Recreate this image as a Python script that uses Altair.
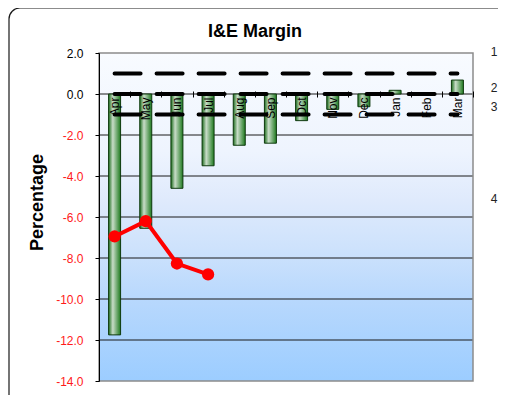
import altair as alt
import pandas as pd

# ---- data ----
months = ["Apr", "May", "Jun", "Jul", "Aug", "Sep", "Oct", "Nov", "Dec", "Jan", "Feb", "Mar"]
margin = [-11.75, -6.55, -4.6, -3.5, -2.5, -2.4, -1.3, -0.75, -0.62, 0.18, 0.05, 0.68]
actual_months = ["Apr", "May", "Jun", "Jul"]
actual = [-6.95, -6.2, -8.27, -8.8]
ref_levels = [1, 0, -1]
grid_values = [-12, -10, -8, -6, -4, -2, 0]
y_ticks = [-14, -12, -10, -8, -6, -4, -2, 0, 2]
side_labels = ["1", "2", "3", "4"]
side_label_y = [-1, 35, 54, 146]

W, H = 374, 328
FONT = "Liberation Sans"

bars_df = pd.DataFrame({"month": months, "value": margin})
line_df = pd.DataFrame({"month": actual_months, "value": actual})
ref_df = pd.DataFrame(
    [{"month": m, "value": lv, "series": str(lv)} for lv in ref_levels for m in months]
)
grid_df = pd.DataFrame({"value": grid_values})
one = alt.Data(values=[{}])

x_axis = alt.Axis(
    orient="bottom", offset=-290, domain=False, ticks=True, tickSize=6,
    tickBand="extent", tickColor="black", tickWidth=1,
    labelAngle=-90, labelAlign="right", labelBaseline="middle",
    labelPadding=0, labelFontSize=12, labelFont=FONT, labelColor="black",
    title=None, grid=False, zindex=1,
)
x_scale = alt.Scale(domain=months, paddingInner=0, paddingOuter=0)
y_scale = alt.Scale(domain=[-14, 2], nice=False, zero=False)
y_axis = alt.Axis(
    values=y_ticks, grid=False, domainColor="black", domainWidth=1,
    tickColor="black", tickSize=4, labelPadding=12, labelFontSize=12,
    labelFont=FONT,
    labelExpr="(datum.value < 0 ? '-' : '') + format(abs(datum.value), '.1f')",
    labelColor=alt.ExprRef("datum.value < 0 ? '#ff1a1a' : 'black'"),
    title="Percentage", titleFont=FONT, titleFontSize=18, titleFontWeight="bold",
    titleColor="black", titleX=-62, titleY=149, titleAngle=270,
    titleAlign="center", titleBaseline="middle", zindex=1,
)


def X():
    return alt.X("month:N", sort=months, scale=x_scale, axis=x_axis)


def Y():
    return alt.Y("value:Q", scale=y_scale, axis=y_axis)


bg = alt.Chart(one).mark_rect(
    color=alt.LinearGradient(
        gradient="linear", x1=0, x2=0, y1=0, y2=1,
        stops=[
            alt.GradientStop(offset=0, color="#f8fbff"),
            alt.GradientStop(offset=0.3, color="#eef4fe"),
            alt.GradientStop(offset=0.45, color="#dfeafc"),
            alt.GradientStop(offset=0.6, color="#cde2fc"),
            alt.GradientStop(offset=0.75, color="#b8d8fd"),
            alt.GradientStop(offset=1, color="#9ccdff"),
        ],
    )
).encode(x=alt.value(0), x2=alt.value("width"), y=alt.value(0), y2=alt.value("height"))

grid = alt.Chart(grid_df).mark_rule(color="#1a1a1a", strokeWidth=1).encode(y=Y())

bars = alt.Chart(bars_df).mark_bar(
    size=12,
    stroke="#0e3a0e",
    strokeWidth=1,
    color=alt.LinearGradient(
        gradient="linear", x1=0, x2=1, y1=0, y2=0,
        stops=[
            alt.GradientStop(offset=0, color="#1e6e1e"),
            alt.GradientStop(offset=0.35, color="#c8dcc8"),
            alt.GradientStop(offset=1, color="#1f7a1f"),
        ],
    ),
).encode(x=X(), y=Y(), y2=alt.datum(0))

refs = alt.Chart(ref_df).mark_line(
    color="black", strokeWidth=4, strokeDash=[26, 16], strokeCap="round"
).encode(x=X(), y=Y(), detail="series:N")

red_line = alt.Chart(line_df).mark_line(color="#ff0000", strokeWidth=4).encode(x=X(), y=Y())
red_pts = alt.Chart(line_df).mark_circle(color="#ff0000", size=150, opacity=1).encode(
    x=X(), y=Y()
)

frame = alt.Chart(one).mark_rect(
    filled=False, stroke="#8c8c8c", strokeWidth=1.5
).encode(x=alt.value(0), x2=alt.value("width"), y=alt.value(0), y2=alt.value("height"))

title = alt.Chart(one).mark_text(
    text="I&E Margin", font=FONT, fontSize=18, fontWeight="bold",
    align="center", baseline="alphabetic", color="black",
).encode(x=alt.value(156), y=alt.value(-16))

side_parts = [
    alt.Chart(one).mark_text(
        text=lbl, font=FONT, fontSize=12, align="center", baseline="middle", color="#222222"
    ).encode(x=alt.value(395), y=alt.value(py))
    for lbl, py in zip(side_labels, side_label_y)
]

outer = alt.Chart(one).mark_rect(
    filled=False, stroke="#1a1a1a", strokeWidth=1.2, cornerRadius=11
).encode(x=alt.value(-90), x2=alt.value(800), y=alt.value(-45), y2=alt.value(800))

chart = alt.layer(
    bg, grid, bars, refs, red_line, red_pts, frame, title, *side_parts, outer
).properties(
    width=W, height=H,
    autosize=alt.AutoSizeParams(type="none"),
    padding={"left": 91, "top": 45, "right": 25, "bottom": 14},
).configure_view(stroke=None)

chart.save("out.html", embed_options={"renderer": "svg", "actions": False})
